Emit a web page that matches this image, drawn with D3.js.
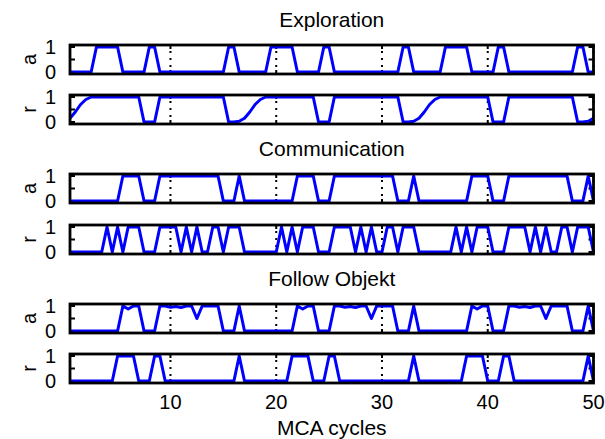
<!DOCTYPE html>
<html><head><meta charset="utf-8">
<script src="https://cdn.jsdelivr.net/npm/d3@7"></script>
<style>
body{margin:0;background:#fff}
svg{display:block}
text{font-family:"Liberation Sans",Arial,Helvetica,sans-serif;fill:#000}
</style>
</head><body>
<svg id="chart" width="605" height="439"></svg>
<script>
// MCA cycle sample points (every half cycle, 0.5 .. 50)
const cycles = d3.range(1, 101).map(i => i / 2);

const explorationA = [
0,0,0,0,0,1,1,1,1,1,0,0,0,0,0,1,1,0,0,0,0,0,0,0,0,0,0,0,0,0,1,1,0,
0,0,0,0,0,1,1,1,1,1,0,0,0,0,0,1,1,0,0,0,0,0,0,0,0,0,0,0,0,0,1,1,0,
0,0,0,0,0,1,1,1,1,1,0,0,0,0,0,1,1,0,0,0,0,0,0,0,0,0,0,0,0,0,1,1,0,
0];
const explorationR = [
0.15,0.4,0.7,0.9,1,1,1,1,1,1,1,1,1,1,0,0,0,1,1,1,1,1,1,1,1,1,1,1,1,1,0,0,0.03,
0.15,0.4,0.7,0.9,1,1,1,1,1,1,1,1,1,1,0,0,0,1,1,1,1,1,1,1,1,1,1,1,1,1,0,0,0.03,
0.15,0.4,0.7,0.9,1,1,1,1,1,1,1,1,1,1,0,0,0,1,1,1,1,1,1,1,1,1,1,1,1,1,0,0,0.03,
0.15];
const communicationA = [
0,0,0,0,0,0,0,0,0,0,1,1,1,1,0,0,0,1,1,1,1,1,1,1,1,1,1,1,1,0,0,0,1,
0,0,0,0,0,0,0,0,0,0,1,1,1,1,0,0,0,1,1,1,1,1,1,1,1,1,1,1,1,0,0,0,1,
0,0,0,0,0,0,0,0,0,0,1,1,1,1,0,0,0,1,1,1,1,1,1,1,1,1,1,1,1,0,0,0,1,
0];
const communicationR = [
0,0,0,0,0,0,0,1,0,1,0,1,1,1,0,0,0,1,1,1,1,0,1,0,1,0,0,1,1,0,1,1,1,
0,0,0,0,0,0,0,1,0,1,0,1,1,1,0,0,0,1,1,1,1,0,1,0,1,0,0,1,1,0,1,1,1,
0,0,0,0,0,0,0,1,0,1,0,1,1,1,0,0,0,1,1,1,1,0,1,0,1,0,0,1,1,0,1,1,1,
0];
const followA = [
0,0,0,0,0,0,0,0,0,0,1,0.88,1,1,0,0,0,1,1,0.95,0.98,0.94,1,1,0.5,1,1,1,1,0,0,0,1,
0,0,0,0,0,0,0,0,0,0,1,0.88,1,1,0,0,0,1,1,0.95,0.98,0.94,1,1,0.5,1,1,1,1,0,0,0,1,
0,0,0,0,0,0,0,0,0,0,1,0.88,1,1,0,0,0,1,1,0.95,0.98,0.94,1,1,0.5,1,1,1,1,0,0,0,1,
0];
const followR = [
0,0,0,0,0,0,0,0,0,1,1,1,1,0,0,0,1,1,0,0,0,0,0,0,0,0,0,0,0,0,0,0,1,
0,0,0,0,0,0,0,0,0,1,1,1,1,0,0,0,1,1,0,0,0,0,0,0,0,0,0,0,0,0,0,0,1,
0,0,0,0,0,0,0,0,0,1,1,1,1,0,0,0,1,1,0,0,0,0,0,0,0,0,0,0,0,0,0,0,1,
0];

const xTicks = [10, 20, 30, 40, 50];
const xTickLabels = ["10", "20", "30", "40", "50"];
const yTicks = [0, 0.5, 1];
const yTickLabels = ["0", "", "1"];
const groupTitles = ["Exploration", "Communication", "Follow Objekt"];
const rowLabels = ["a", "r"];
const xLabel = "MCA cycles";

const panels = [
  {title: groupTitles[0], label: rowLabels[0], values: explorationA},
  {title: null,           label: rowLabels[1], values: explorationR},
  {title: groupTitles[1], label: rowLabels[0], values: communicationA},
  {title: null,           label: rowLabels[1], values: communicationR},
  {title: groupTitles[2], label: rowLabels[0], values: followA},
  {title: null,           label: rowLabels[1], values: followR}
];

// layout
const left = 70, right = 593.5, ph = 29;
const tops = [45, 95, 174, 225, 304, 354];
const fsTick = 20, fsTitle = 21;

const svg = d3.select("#chart");
const x = d3.scaleLinear().domain([0.5, 50]).range([left, right]);

panels.forEach((p, i) => {
  const top = tops[i], bottom = top + ph;
  const y = d3.scaleLinear().domain([-0.08, 1.08]).range([bottom, top]);
  const g = svg.append("g");

  // dotted grid at x ticks
  g.selectAll(".grid").data(xTicks).enter().append("line")
    .attr("x1", d => x(d)).attr("x2", d => x(d))
    .attr("y1", top + 4).attr("y2", bottom - 4)
    .attr("stroke", "#000").attr("stroke-width", 2)
    .attr("stroke-dasharray", "2,5").attr("stroke-dashoffset", -2);
  // x tick marks (top & bottom, inward)
  xTicks.forEach(t => {
    g.append("line").attr("x1", x(t)).attr("x2", x(t)).attr("y1", top).attr("y2", top + 4)
      .attr("stroke", "#000").attr("stroke-width", 2);
    g.append("line").attr("x1", x(t)).attr("x2", x(t)).attr("y1", bottom).attr("y2", bottom - 4)
      .attr("stroke", "#000").attr("stroke-width", 2);
  });
  // y tick marks (left & right, inward)
  yTicks.forEach(t => {
    g.append("line").attr("x1", left).attr("x2", left + 5).attr("y1", y(t)).attr("y2", y(t))
      .attr("stroke", "#000").attr("stroke-width", 2);
    g.append("line").attr("x1", right).attr("x2", right - 5).attr("y1", y(t)).attr("y2", y(t))
      .attr("stroke", "#000").attr("stroke-width", 2);
  });

  // data line
  const line = d3.line().x((d, k) => x(cycles[k])).y(d => y(d));
  g.append("path").datum(p.values)
    .attr("d", line).attr("fill", "none")
    .attr("stroke", "#0000ff").attr("stroke-width", 3)
    .attr("stroke-linejoin", "round");

  // box
  g.append("rect").attr("x", left).attr("y", top)
    .attr("width", right - left).attr("height", ph)
    .attr("fill", "none").attr("stroke", "#000").attr("stroke-width", 2.8);

  // y tick labels
  yTicks.forEach((t, k) => {
    if (!yTickLabels[k]) return;
    g.append("text").attr("x", 56).attr("y", y(t) + 7)
      .attr("text-anchor", "end").attr("font-size", fsTick).text(yTickLabels[k]);
  });

  // row label
  g.append("text").attr("transform", `translate(36,${top + ph / 2}) rotate(-90)`)
    .attr("text-anchor", "middle").attr("font-size", fsTick).text(p.label);

  // group title
  if (p.title) {
    g.append("text").attr("x", (left + right) / 2).attr("y", top - 18.5)
      .attr("text-anchor", "middle").attr("font-size", fsTitle).text(p.title);
  }

  // x tick labels on the bottom panel
  if (i === panels.length - 1) {
    xTicks.forEach((t, k) => {
      g.append("text").attr("x", x(t)).attr("y", bottom + 26)
        .attr("text-anchor", "middle").attr("font-size", fsTick).text(xTickLabels[k]);
    });
    g.append("text").attr("x", (left + right) / 2).attr("y", 435)
      .attr("text-anchor", "middle").attr("font-size", fsTitle).text(xLabel);
  }
});
</script>
</body></html>
